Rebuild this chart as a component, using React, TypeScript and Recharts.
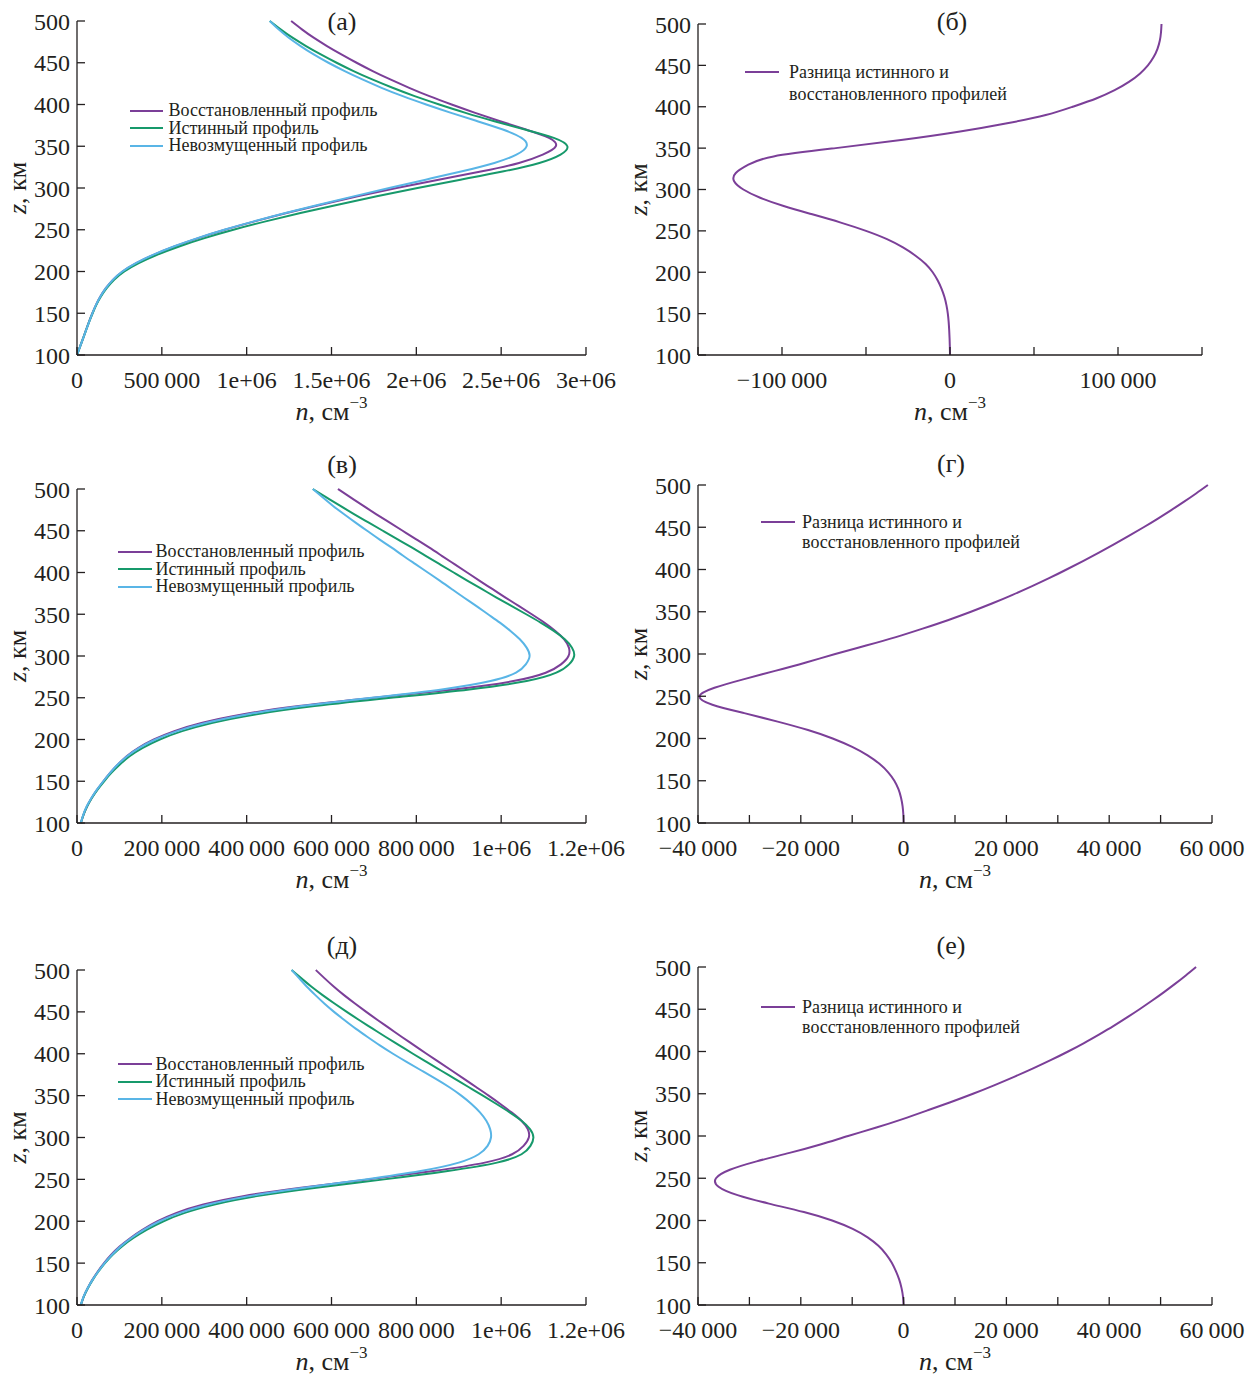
import React from 'react';
import { LineChart, Line, XAxis, YAxis, Legend, Label } from 'recharts';

// высоты, км (общая сетка для всех панелей)
const zKm = [100, 110, 120, 130, 140, 150, 160, 170, 180, 190, 200, 210, 220, 230, 240, 250, 260, 270, 280, 290, 300,
  310, 320, 330, 340, 350, 360, 370, 380, 390, 400, 410, 420, 430, 440, 450, 460, 470, 480, 490, 500];

// (а) профили, см^-3
const restoredA = [0, 17900, 35750, 53520, 71200, 90700, 111900, 137700, 170000, 211700, 268700, 349500, 451500, 574000,
  714500, 872000, 1047000, 1235000, 1438000, 1654000, 1884000, 2131500, 2387500, 2605000, 2745000, 2822000, 2782000,
  2646000, 2494000, 2347000, 2208000, 2077000, 1958000, 1846500, 1743000, 1647800, 1558200, 1473500, 1394900, 1325600, 1261900];
const trueA = [0, 18000, 36000, 54000, 72000, 92000, 114000, 141000, 175000, 219000, 279000, 364000, 472000, 602000,
  752000, 922000, 1112000, 1317000, 1537000, 1767000, 2007000, 2260000, 2515000, 2725000, 2850000, 2890000, 2810000,
  2640000, 2460000, 2290000, 2135000, 1990000, 1860000, 1740000, 1630000, 1530000, 1437000, 1350000, 1270000, 1200000, 1136000];
const unperturbedA = [0, 18000, 36000, 54000, 72000, 91000, 112000, 138000, 170000, 211000, 267000, 347000, 448000, 570000,
  710000, 868000, 1042000, 1228000, 1425000, 1630000, 1840000, 2055000, 2270000, 2460000, 2590000, 2650000, 2620000,
  2510000, 2360000, 2205000, 2058000, 1920000, 1795000, 1682000, 1578000, 1482000, 1395000, 1318000, 1248000, 1188000, 1136000];

// (б) разница
const diffB = [0, -100, -250, -480, -800, -1300, -2100, -3300, -5000, -7300, -10300, -14500, -20500, -28000, -37500,
  -50000, -65000, -82000, -99000, -113000, -123000, -128500, -127500, -120000, -105000, -68000, -28000, 6000, 34000,
  57000, 73000, 87000, 98000, 106500, 113000, 117800, 121200, 123500, 124900, 125600, 125900];

// (в) профили
const restoredV = [9000, 15450, 23800, 34500, 47500, 62200, 78000, 96300, 117000, 145000, 181200, 229400, 295500, 389000,
  522800, 700300, 888200, 1028800, 1105000, 1141000, 1158700, 1159700, 1148500, 1127700, 1101600, 1072100, 1041300,
  1010200, 979900, 949400, 919700, 889900, 860000, 830000, 798900, 767700, 736400, 705000, 674500, 644900, 615200];
const trueV = [9000, 15500, 24000, 35000, 48500, 64000, 81000, 101000, 124000, 155000, 195000, 248000, 320000, 420000,
  560000, 740000, 925000, 1060000, 1130000, 1160000, 1172000, 1167000, 1150000, 1124000, 1093000, 1059000, 1024000,
  989000, 955000, 921000, 888000, 855000, 822000, 789000, 755000, 721000, 687000, 653000, 620000, 588000, 556000];
const unperturbedV = [9000, 15000, 23000, 34000, 47000, 62000, 78000, 96000, 118000, 147000, 185000, 236000, 305000, 400000,
  530000, 695000, 860000, 975000, 1035000, 1058000, 1067000, 1060000, 1044000, 1022000, 997000, 969000, 941000,
  912000, 884000, 856000, 827000, 798000, 769000, 741000, 712000, 684000, 656000, 629000, 603000, 579000, 556000];

// (г) разница
const diffG = [0, -50, -200, -500, -1000, -1800, -3000, -4700, -7000, -10000, -13800, -18600, -24500, -31000, -37200,
  -39700, -36800, -31200, -25000, -19000, -13300, -7300, -1500, 3700, 8600, 13100, 17300, 21200, 24900, 28400, 31700,
  34900, 38000, 41000, 43900, 46700, 49400, 52000, 54500, 56900, 59200];

// (д) профили
const restoredD = [9000, 15880, 25100, 36150, 49000, 63700, 80600, 101100, 126000, 155100, 190100, 234600, 297800, 391700,
  528000, 687500, 840200, 961400, 1025800, 1052800, 1065200, 1062700, 1047800, 1024500, 998100, 970500, 941600,
  912500, 883200, 853700, 824000, 795100, 766000, 737800, 709400, 681900, 655300, 629600, 605800, 583900, 562900];
const trueD = [9000, 16000, 25500, 37000, 50500, 66000, 84000, 106000, 133000, 165000, 204000, 254000, 324000, 424000,
  564000, 724000, 874000, 990000, 1048000, 1069000, 1076000, 1068000, 1048000, 1020000, 989000, 957000, 924000,
  891000, 858000, 825000, 792000, 760000, 728000, 697000, 666000, 636000, 607000, 579000, 553000, 529000, 506000];
const unperturbedD = [9000, 15500, 25000, 36500, 50000, 65000, 82500, 103000, 128000, 158000, 195000, 243000, 310000, 405000,
  535000, 680000, 810000, 900000, 947000, 968000, 976000, 974000, 965000, 950000, 930000, 906000, 878000,
  846000, 812000, 778000, 745000, 714000, 685000, 657000, 631000, 606000, 583000, 562000, 542000, 524000, 506000];

// (е) разница
const diffE = [0, -120, -400, -850, -1500, -2300, -3400, -4900, -7000, -9900, -13900, -19400, -26200, -32300, -36000,
  -36500, -33800, -28600, -22200, -16200, -10800, -5300, -200, 4500, 9100, 13500, 17600, 21500, 25200, 28700, 32000,
  35100, 38000, 40800, 43400, 45900, 48300, 50600, 52800, 54900, 56900];

// оси
const zTicks = [100, 150, 200, 250, 300, 350, 400, 450, 500];
const ticksA = [0, 500000, 1000000, 1500000, 2000000, 2500000, 3000000];
const tickLabelsA = ['0', '500\u2009000', '1e+06', '1.5e+06', '2e+06', '2.5e+06', '3e+06'];
const ticksB = [-150000, -100000, -50000, 0, 50000, 100000, 150000];
const tickLabelsB = ['', '−100\u2009000', '', '0', '', '100\u2009000', ''];
const ticksV = [0, 200000, 400000, 600000, 800000, 1000000, 1200000];
const tickLabelsV = ['0', '200\u2009000', '400\u2009000', '600\u2009000', '800\u2009000', '1e+06', '1.2e+06'];
const ticksG = [-40000, -30000, -20000, -10000, 0, 10000, 20000, 30000, 40000, 50000, 60000];
const tickLabelsG = ['−40\u2009000', '', '−20\u2009000', '', '0', '', '20\u2009000', '', '40\u2009000', '', '60\u2009000'];

const NAME_RESTORED = 'Восстановленный профиль';
const NAME_TRUE = 'Истинный профиль';
const NAME_UNPERT = 'Невозмущенный профиль';
const NAME_DIFF = 'Разница истинного и\nвосстановленного профилей';

const INK = '#231f20';
const FONT = '"Liberation Serif", "Times New Roman", serif';
const PURPLE = '#7b3f98';
const GREEN = '#17996b';
const BLUE = '#59b5e6';

interface Series { key: string; name: string; color: string; values: number[] }
interface LegendCfg { x: number; y: number; rowH: number; swatch: number; gap: number }
interface PanelProps {
  left: number; top: number; width: number;
  plot: [number, number, number, number];
  title: string; titleX: number; titleY: number;
  xDomain: [number, number]; xTicks: number[]; xLabels: string[];
  series: Series[]; legend: LegendCfg;
}

const LegendBox = ({ payload, cfg }: { payload?: any[]; cfg: LegendCfg }) => (
  <div style={{ fontFamily: FONT, fontSize: 18, color: INK, lineHeight: `${cfg.rowH}px`, whiteSpace: 'nowrap' }}>
    {(payload || []).map((e: any) => (
      <div key={e.value} style={{ display: 'flex', alignItems: 'flex-start' }}>
        <span style={{ width: cfg.swatch, height: 2, background: e.color, marginTop: cfg.rowH / 2 - 1, marginRight: cfg.gap, flex: 'none' }} />
        <span style={{ whiteSpace: 'pre-line' }}>{e.value}</span>
      </div>
    ))}
  </div>
);

const Panel = (p: PanelProps) => {
  const { left, top, width, plot, series } = p;
  const height = plot[3] - top + 85;
  const px = plot[0] - left;
  const py = plot[1] - top;
  const pw = plot[2] - plot[0];
  const ph = plot[3] - plot[1];
  const rows = zKm.map((z, i) => {
    const r: Record<string, number> = { z };
    series.forEach((s) => { r[s.key] = s.values[i]; });
    return r;
  }).reverse();
  const margin = { left: px - 60, top: py, right: width - (plot[2] - left), bottom: height - (py + ph) - 60 };
  const tickStyle = { fill: INK, fontSize: 24, fontFamily: FONT };

  return (
    <div style={{ position: 'absolute', left, top }}>
      <div style={{ position: 'absolute', left: p.titleX - left, top: p.titleY - top - 14, transform: 'translateX(-50%)',
        fontFamily: FONT, fontSize: 26, lineHeight: '28px', color: INK, whiteSpace: 'nowrap' }}>{p.title}</div>
      <LineChart width={width} height={height} data={rows} layout="vertical" margin={margin}>
        <XAxis type="number" domain={p.xDomain} ticks={p.xTicks} interval={0} allowDataOverflow
          tickFormatter={(v: number) => p.xLabels[p.xTicks.indexOf(v)] ?? ''}
          height={60} stroke={INK} strokeWidth={1.3} tick={tickStyle} tickSize={-8} tickMargin={24}>
          <Label content={() => (
            <text x={px + pw / 2} y={py + ph + 65} textAnchor="middle" fontFamily={FONT} fontSize={26} fill={INK}>
              <tspan fontStyle="italic">n</tspan>, см<tspan dy={-12} fontSize={17}>−3</tspan>
            </text>
          )} />
        </XAxis>
        <YAxis type="number" dataKey="z" domain={[100, 500]} ticks={zTicks} interval={0} reversed
          width={60} stroke={INK} strokeWidth={1.3} tick={tickStyle} tickSize={-8} tickMargin={15}>
          <Label content={() => (
            <text transform={`translate(${px - 60}, ${py + ph / 2}) rotate(-90)`} textAnchor="middle"
              dominantBaseline="central" fontFamily={FONT} fontSize={26} fill={INK}>
              <tspan fontStyle="italic">z</tspan>, км
            </text>
          )} />
        </YAxis>
        <Legend layout="horizontal" align="center" verticalAlign="middle"
          wrapperStyle={{ left: p.legend.x - left, top: p.legend.y - top, width: 'auto', margin: 0, padding: 0 }}
          content={(lp: any) => <LegendBox payload={lp.payload} cfg={p.legend} />} />
        {series.map((s) => (
          <Line key={s.key} type="natural" dataKey={s.key} name={s.name} stroke={s.color} strokeWidth={2}
            dot={false} activeDot={false} isAnimationActive={false} />
        ))}
      </LineChart>
    </div>
  );
};

const profiles = (r: number[], t: number[], u: number[]): Series[] => [
  { key: 'restored', name: NAME_RESTORED, color: PURPLE, values: r },
  { key: 'true', name: NAME_TRUE, color: GREEN, values: t },
  { key: 'unperturbed', name: NAME_UNPERT, color: BLUE, values: u },
];
const difference = (d: number[]): Series[] => [{ key: 'diff', name: NAME_DIFF, color: PURPLE, values: d }];

export default function App() {
  return (
    <div style={{ position: 'absolute', left: 0, top: 0, width: 1256, height: 1374, background: '#fff' }}>
      <Panel left={0} top={0} width={640} plot={[77, 21, 586, 355]} title="(а)" titleX={342} titleY={22}
        xDomain={[0, 3000000]} xTicks={ticksA} xLabels={tickLabelsA}
        series={profiles(restoredA, trueA, unperturbedA)}
        legend={{ x: 129.5, y: 102, rowH: 17.5, swatch: 33, gap: 6 }} />
      <Panel left={604} top={0} width={652} plot={[698, 24, 1202, 355]} title="(б)" titleX={952} titleY={22}
        xDomain={[-150000, 150000]} xTicks={ticksB} xLabels={tickLabelsB}
        series={difference(diffB)}
        legend={{ x: 745, y: 61, rowH: 22, swatch: 34, gap: 10 }} />
      <Panel left={0} top={450} width={640} plot={[77, 489, 586, 823]} title="(в)" titleX={342} titleY={465}
        xDomain={[0, 1200000]} xTicks={ticksV} xLabels={tickLabelsV}
        series={profiles(restoredV, trueV, unperturbedV)}
        legend={{ x: 117.5, y: 543, rowH: 17.5, swatch: 34, gap: 4 }} />
      <Panel left={604} top={450} width={652} plot={[698, 485, 1212, 823]} title="(г)" titleX={951} titleY={464}
        xDomain={[-40000, 60000]} xTicks={ticksG} xLabels={tickLabelsG}
        series={difference(diffG)}
        legend={{ x: 761, y: 511.5, rowH: 20, swatch: 34, gap: 7 }} />
      <Panel left={0} top={930} width={640} plot={[77, 970, 586, 1305]} title="(д)" titleX={342} titleY={946}
        xDomain={[0, 1200000]} xTicks={ticksV} xLabels={tickLabelsV}
        series={profiles(restoredD, trueD, unperturbedD)}
        legend={{ x: 117.5, y: 1055.5, rowH: 17.5, swatch: 34, gap: 4 }} />
      <Panel left={604} top={930} width={652} plot={[698, 967, 1212, 1305]} title="(е)" titleX={951} titleY={946}
        xDomain={[-40000, 60000]} xTicks={ticksG} xLabels={tickLabelsG}
        series={difference(diffE)}
        legend={{ x: 761, y: 997, rowH: 20, swatch: 34, gap: 7 }} />
    </div>
  );
}
